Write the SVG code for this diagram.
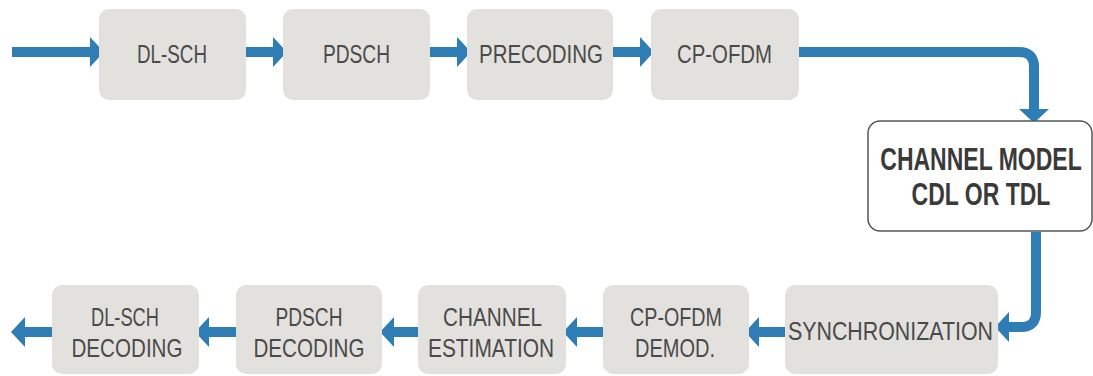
<svg xmlns="http://www.w3.org/2000/svg" width="1093" height="376" viewBox="0 0 1093 376">
<defs>
<style>
.box{fill:#e3e1dd;}
.t{font-family:"Liberation Sans",Arial,sans-serif;font-size:26px;fill:#4a4a4a;text-anchor:middle;}
.tb{font-family:"Liberation Sans",Arial,sans-serif;font-size:23px;font-weight:bold;fill:#3a3a3a;text-anchor:middle;}
.c{fill:none;stroke:#2e7db4;stroke-width:10;marker-end:url(#ah);}
</style>
<marker id="ah" viewBox="0 0 14 30" refX="0" refY="15" markerWidth="14" markerHeight="30" markerUnits="userSpaceOnUse" orient="auto">
<path d="M0,0 L14,15 L0,30 Z" fill="#2e7db4"/>
</marker>
</defs>
<rect width="1093" height="376" fill="#ffffff"/>
<g id="connectors">
<path class="c" d="M12 52 H90"/>
<path class="c" d="M246 52 H273"/>
<path class="c" d="M430 52 H457"/>
<path class="c" d="M613 52 H640"/>
<path class="c" d="M799 52 H1019 Q1034 52 1034 67 V109"/>
<path class="c" d="M1036 232 V312 Q1036 327 1021 327 H1009"/>
<path class="c" d="M785 332 H759"/>
<path class="c" d="M603 332 H577"/>
<path class="c" d="M418 332 H394"/>
<path class="c" d="M236 332 H209"/>
<path class="c" d="M52 332 H25"/>
</g>
<g id="n-dlsch"><rect class="box" x="99" y="9" width="147" height="91" rx="10"/><text class="t" x="172" y="63" textLength="70" lengthAdjust="spacingAndGlyphs">DL-SCH</text></g>
<g id="n-pdsch"><rect class="box" x="283" y="9" width="147" height="91" rx="10"/><text class="t" x="356.5" y="63" textLength="67" lengthAdjust="spacingAndGlyphs">PDSCH</text></g>
<g id="n-precoding"><rect class="box" x="467" y="9" width="146" height="91" rx="10"/><text class="t" x="541" y="63" textLength="124" lengthAdjust="spacingAndGlyphs">PRECODING</text></g>
<g id="n-cpofdm"><rect class="box" x="651" y="9" width="148" height="91" rx="10"/><text class="t" x="724.5" y="63" textLength="95" lengthAdjust="spacingAndGlyphs">CP-OFDM</text></g>
<g id="n-channel"><rect x="868" y="121" width="224" height="110" rx="12" fill="#ffffff" stroke="#555555" stroke-width="1.5"/>
<text class="tb" transform="translate(981,170) scale(1,1.35)" x="0" y="0">CHANNEL MODEL</text>
<text class="tb" transform="translate(981,205) scale(1,1.35)" x="0" y="0">CDL OR TDL</text></g>
<g id="n-sync"><rect class="box" x="785" y="285" width="213" height="89" rx="10"/><text class="t" x="890.5" y="340" textLength="205" lengthAdjust="spacingAndGlyphs">SYNCHRONIZATION</text></g>
<g id="n-demod"><rect class="box" x="603" y="285" width="146" height="89" rx="10"/><text class="t" x="676" y="326" textLength="92" lengthAdjust="spacingAndGlyphs">CP-OFDM</text><text class="t" x="675" y="357" textLength="80" lengthAdjust="spacingAndGlyphs">DEMOD.</text></g>
<g id="n-chest"><rect class="box" x="418" y="285" width="148" height="89" rx="10"/><text class="t" x="492.5" y="326" textLength="99" lengthAdjust="spacingAndGlyphs">CHANNEL</text><text class="t" x="491" y="357" textLength="126" lengthAdjust="spacingAndGlyphs">ESTIMATION</text></g>
<g id="n-pdschdec"><rect class="box" x="236" y="285" width="146" height="89" rx="10"/><text class="t" x="309" y="326" textLength="67" lengthAdjust="spacingAndGlyphs">PDSCH</text><text class="t" x="309" y="357" textLength="111" lengthAdjust="spacingAndGlyphs">DECODING</text></g>
<g id="n-dlschdec"><rect class="box" x="52" y="285" width="147" height="89" rx="10"/><text class="t" x="125" y="326" textLength="68" lengthAdjust="spacingAndGlyphs">DL-SCH</text><text class="t" x="127" y="357" textLength="111" lengthAdjust="spacingAndGlyphs">DECODING</text></g>
</svg>
